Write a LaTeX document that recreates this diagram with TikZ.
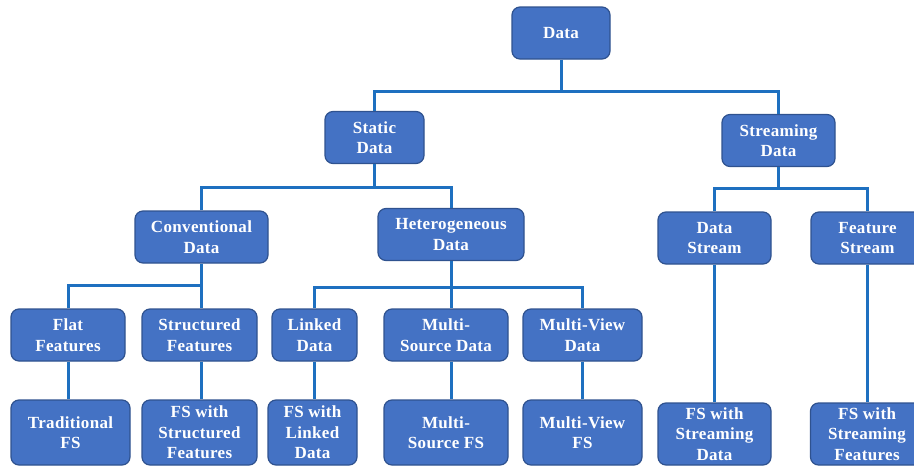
\documentclass[tikz,border=0pt]{standalone}
\usepackage{fontspec}
\setmainfont{Liberation Serif}[LetterSpace=2]
\usetikzlibrary{positioning}
\definecolor{boxfill}{HTML}{4472C4}
\definecolor{boxline}{HTML}{2F528F}
\definecolor{linkblue}{RGB}{30,112,192}
\begin{document}
\begin{tikzpicture}[x=1pt,y=-1pt]
			\tikzstyle{box} = [draw=boxline, line width=1.2pt, fill=boxfill, rounded corners=8pt, text=white, font=\fontsize{17}{20.5}\selectfont\bfseries, align=center, inner sep=0pt, minimum height=52pt]
			\tikzstyle{link} = [draw=linkblue, line width=3pt]
			\useasboundingbox (0,0) rectangle (914,466);
			\clip (0,0) rectangle (914,466);
			% level 0 and 1
			\node[box, minimum width=98pt](data) at (561,33){Data};
			\node[box, minimum width=99pt](static) at (374.5,137.5){Static\\Data};
			\node[box, minimum width=113pt](stream) at (778.5,140.5){Streaming\\Data};
			% level 2
			\node[box, minimum width=133pt](conv) at (201.5,237){Conventional\\Data};
			\node[box, minimum width=146pt](hetero) at (451,234.5){Heterogeneous\\Data};
			\node[box, minimum width=113pt](dstream) at (714.5,238){Data\\Stream};
			\node[box, minimum width=113pt](fstream) at (867.5,238){Feature\\Stream};
			% level 3
			\node[box, minimum width=114pt](flat) at (68,335){Flat\\Features};
			\node[box, minimum width=115pt](struct) at (199.5,335){Structured\\Features};
			\node[box, minimum width=85pt](linked) at (314.5,335){Linked\\Data};
			\node[box, minimum width=124pt](msource) at (446,335){Multi-\\Source Data};
			\node[box, minimum width=119pt](mview) at (582.5,335){Multi-View\\Data};
			% level 4
			\node[box, minimum width=119pt, minimum height=65pt](trad) at (70.5,432.5){Traditional\\FS};
			\node[box, minimum width=115pt, minimum height=65pt](fsstruct) at (199.5,432.5){FS with\\Structured\\Features};
			\node[box, minimum width=89pt, minimum height=65pt](fslinked) at (312.5,432.5){FS with\\Linked\\Data};
			\node[box, minimum width=124pt, minimum height=65pt](msfs) at (446,432.5){Multi-\\Source FS};
			\node[box, minimum width=119pt, minimum height=65pt](mvfs) at (582.5,432.5){Multi-View\\FS};
			\node[box, minimum width=113pt, minimum height=62pt](fsdata) at (714.5,434){FS with\\Streaming\\Data};
			\node[box, minimum width=113pt, minimum height=62pt](fsfeat) at (867,434){FS with\\Streaming\\Features};
			% tree connectors
			\coordinate(b0) at (561,91);
			\coordinate(b1) at (374.5,187);
			\coordinate(b2) at (778.5,188);
			\coordinate(b3) at (201.5,285);
			\coordinate(b4) at (451,287);
			\draw[link](data) -- (b0);
			\draw[link](static.north) |- (b0) -| (stream.north);
			\draw[link](static) -- (b1);
			\draw[link](conv.north) |- (b1) -| (hetero.north);
			\draw[link](stream) -- (b2);
			\draw[link](dstream.north) |- (b2) -| (fstream.north);
			\draw[link](conv) -- (b3);
			\draw[link](flat.north) |- (b3) -- (b3 |- struct.north);
			\draw[link](hetero) -- (b4);
			\draw[link](linked.north) |- (b4) -| (mview.north);
			\draw[link](b4) -- (b4 |- msource.north);
			% leaves
			\draw[link](flat.south) -- (flat.south |- trad.north);
			\draw[link](b3 |- struct.south) -- (b3 |- fsstruct.north);
			\draw[link](linked.south) -- (linked.south |- fslinked.north);
			\draw[link](b4 |- msource.south) -- (b4 |- msfs.north);
			\draw[link](mview) -- (mvfs);
			\draw[link](dstream) -- (fsdata);
			\draw[link](fstream.south) -- (fstream.south |- fsfeat.north);
		\end{tikzpicture}
\end{document}
